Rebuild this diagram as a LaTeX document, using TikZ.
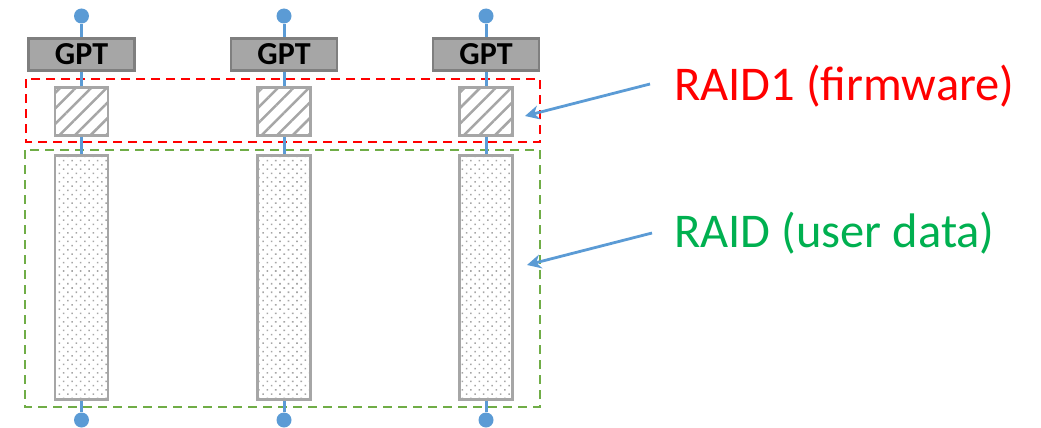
\documentclass[tikz,border=0pt]{standalone}
\usepackage{fontspec}
\setmainfont{Carlito}
\usetikzlibrary{patterns.meta,arrows.meta}
\definecolor{conblue}{HTML}{5B9BD5}
\definecolor{gptfill}{HTML}{A6A6A6}
\definecolor{gptdraw}{HTML}{7F7F7F}
\definecolor{partgray}{HTML}{A6A6A6}
\definecolor{raidred}{HTML}{FF0000}
\definecolor{raidgreen}{HTML}{70AD47}
\definecolor{txtgreen}{HTML}{00B050}
\tikzset{
  gptbox/.style={draw=gptdraw, fill=gptfill, line width=2.5pt, minimum width=106pt, minimum height=32pt, inner sep=0pt, font=\fontsize{32}{34}\selectfont\bfseries},
  fwbox/.style={draw=partgray, line width=2.5pt, minimum width=53pt, minimum height=48pt, inner sep=0pt,
    pattern={Lines[angle=45,distance=11pt,line width=2.5pt]}, pattern color=partgray},
  databox/.style={draw=partgray, line width=2.5pt, minimum width=53pt, minimum height=244pt, inner sep=0pt,
    pattern={Dots[angle=45,distance=6pt,radius=1.1pt]}, pattern color=partgray},
  enddot/.style={circle, fill=conblue, minimum size=15pt, inner sep=0pt},
  conn/.style={draw=conblue, line width=3pt},
  raidbox/.style={line width=2.8pt, dash pattern=on 9pt off 6pt},
  label/.style={anchor=west, font=\fontsize{48.5}{52}\selectfont, inner sep=0pt},
  pointer/.style={draw=conblue, line width=2.8pt, -{Stealth[length=14pt,width=14pt]}}
}
\begin{document}
\begin{tikzpicture}[x=1pt,y=-1pt]
\useasboundingbox (0,0) rectangle (1041,428);
\draw[raidbox, draw=raidred] (26,79) rectangle (540,142);
\draw[raidbox, draw=raidgreen] (25,150) rectangle (540,407);
\foreach \i/\cx in {1/81.5, 2/284, 3/486} {
  \node[enddot] (top\i) at (\cx,16) {};
  \node[gptbox] (gpt\i) at (\cx,54.5) {GPT};
  \node[fwbox] (fw\i) at (\cx,111.5) {};
  \node[databox] (data\i) at (\cx,277.5) {};
  \node[enddot] (bot\i) at (\cx,420) {};
  \draw[conn] (top\i) -- (gpt\i);
  \draw[conn] (gpt\i) -- (fw\i);
  \draw[conn] (fw\i) -- (data\i);
  \draw[conn] (data\i) -- (bot\i);
}
\node[label, text=raidred] (l1) at (674,86) {RAID1 (firmware)};
\node[label, text=txtgreen] (l2) at (674,233) {RAID (user data)};
\coordinate (t1) at (525,116);
\coordinate (t2) at (527,265);
\draw[pointer] (650,84) -- (t1);
\draw[pointer] (652,233) -- (t2);
\end{tikzpicture}
\end{document}
